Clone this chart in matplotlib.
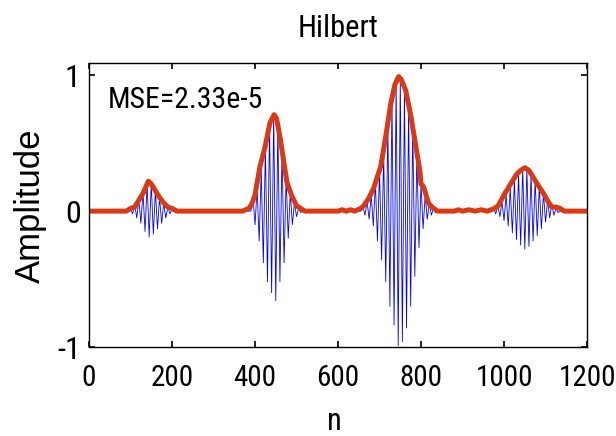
import matplotlib
matplotlib.use("Agg")
import matplotlib.pyplot as plt
import numpy as np

# red envelope (Hilbert), key points
env_n = [0, 90, 100, 110, 120, 130, 143, 150, 160, 170, 180, 190, 200, 212,
         370, 385, 392, 400, 412, 424, 436, 446, 452, 461, 470, 477, 489, 500, 510, 520,
         600, 610, 620, 630, 640, 655, 662, 675, 686, 703, 715, 727, 737, 746, 752, 763,
         776, 790, 797, 800, 806, 812, 818, 826, 840,
         880, 890, 900, 915, 930, 945, 960, 977, 986, 1000, 1010, 1020, 1030, 1040, 1050,
         1060, 1070, 1080, 1095, 1108, 1115, 1125, 1135, 1145, 1200]
env_amp = [0.0, 0.0, 0.02, 0.03, 0.08, 0.13, 0.22, 0.20, 0.15, 0.10, 0.06, 0.03, 0.02, 0.0,
           0.0, 0.02, 0.05, 0.12, 0.33, 0.47, 0.65, 0.71, 0.68, 0.53, 0.35, 0.21, 0.11, 0.04, 0.02, 0.0,
           0.0, 0.01, 0.0, 0.01, 0.0, 0.02, 0.04, 0.10, 0.17, 0.33, 0.55, 0.79, 0.93, 0.99, 0.97, 0.89,
           0.69, 0.43, 0.30, 0.20, 0.18, 0.12, 0.06, 0.03, 0.0,
           0.0, 0.01, 0.0, 0.01, 0.0, 0.01, 0.0, 0.02, 0.04, 0.12, 0.17, 0.22, 0.27, 0.30, 0.32,
           0.30, 0.25, 0.20, 0.13, 0.06, 0.03, 0.03, 0.02, 0.0, 0.0]

# blue signal: alternating peaks of each wave packet, one every 5 samples
packet_start = [100, 395, 660, 975]
packet_peaks = [
    [0.02, -0.02, 0.05, -0.05, 0.09, -0.09, 0.14, -0.15, 0.20, -0.19, 0.20, -0.17,
     0.15, -0.13, 0.10, -0.09, 0.06, -0.05, 0.03, -0.02, 0.01],
    [0.10, -0.10, 0.17, -0.22, 0.30, -0.38, 0.48, -0.52, 0.64, -0.60, 0.71, -0.66,
     0.64, -0.52, 0.45, -0.38, 0.25, -0.20, 0.14, -0.10, 0.06, -0.04, 0.02, -0.01],
    [0.03, -0.03, 0.07, -0.06, 0.12, -0.11, 0.21, -0.22, 0.30, -0.36, 0.42, -0.52,
     0.64, -0.70, 0.83, -0.84, 0.96, -0.99, 0.99, -0.96, 0.90, -0.86, 0.76, -0.70,
     0.62, -0.48, 0.43, -0.27, 0.20, -0.13, 0.12, -0.06, 0.06, -0.03, 0.02, -0.01],
    [0.02, -0.02, 0.04, -0.04, 0.07, -0.07, 0.12, -0.11, 0.17, -0.16, 0.22, -0.21,
     0.27, -0.25, 0.31, -0.28, 0.31, -0.26, 0.27, -0.22, 0.23, -0.18, 0.18, -0.13,
     0.13, -0.08, 0.08, -0.05, 0.05, -0.03, 0.02, -0.01],
]
peak_step = 5
n_max = 1200
mse_text = "MSE=2.33e-5"

plt.rcParams["font.family"] = ["Roboto Condensed", "DejaVu Sans"]
plt.rcParams["axes.unicode_minus"] = False

sig_n, sig_y = [0], [0.0]
for s, pk in zip(packet_start, packet_peaks):
    xs = s + peak_step * np.arange(len(pk))
    sig_n += [s - peak_step] + list(xs) + [xs[-1] + peak_step]
    sig_y += [0.0] + pk + [0.0]
sig_n.append(n_max)
sig_y.append(0.0)

fig = plt.figure(figsize=(6.16, 4.36), dpi=100)
ax = fig.add_axes([0.1445, 0.2041, 0.8085, 0.6514])
ax.plot(sig_n, sig_y, color="#0000ff", lw=0.6)
ax.plot(env_n, env_amp, color="#d93a12", lw=3.6, solid_capstyle="round", solid_joinstyle="round")

ax.set_xlim(0, n_max)
ax.set_ylim(-1, 1.09)
ax.set_xticks(range(0, 1201, 200))
ax.set_yticks([-1, 0, 1])
ax.tick_params(direction="in", top=True, right=True, length=4, width=1.2, colors="black")
ax.tick_params(axis="x", pad=12, labelsize=21)
ax.tick_params(axis="y", pad=6, labelsize=23)
for sp in ax.spines.values():
    sp.set_linewidth(1.0)

ax.text(46, 0.816, mse_text, fontsize=21.5, va="center", ha="left")
ax.set_xlabel("n", fontsize=22, va="center")
ax.xaxis.set_label_coords(0.492, -0.262)
ax.set_ylabel("Amplitude", fontsize=25, va="center", family="Liberation Sans")
ax.yaxis.set_label_coords(-0.118, 0.496)
fig.text(338 / 616, 1 - 28 / 436, "Hilbert", fontsize=22, ha="center", va="center")

fig.savefig("out.png", dpi=100)
